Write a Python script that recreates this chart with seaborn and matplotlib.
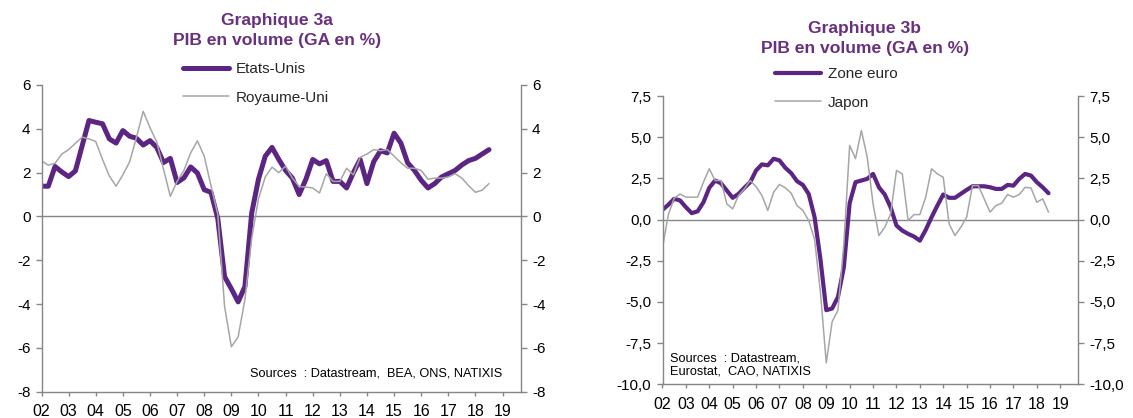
import matplotlib

matplotlib.use("Agg")
import matplotlib.pyplot as plt
import pandas as pd
import seaborn as sns
from matplotlib.ticker import FuncFormatter

sns.set_theme(style="white")
plt.rcParams["font.family"] = ["Liberation Sans", "DejaVu Sans"]
plt.rcParams["axes.unicode_minus"] = False

# trimestres 2002T1 -> 2018T3
quarters = pd.period_range("2002Q1", "2018Q3", freq="Q")
year_ticks = list(range(2002, 2020))
year_labels = ["02", "03", "04", "05", "06", "07", "08", "09", "10",
               "11", "12", "13", "14", "15", "16", "17", "18", "19"]

# PIB en volume, glissement annuel en %
etats_unis = [1.38, 1.38, 2.28, 2.03, 1.82, 2.08, 3.23, 4.38,
              4.30, 4.23, 3.54, 3.35, 3.92, 3.66, 3.57, 3.26,
              3.46, 3.15, 2.46, 2.65, 1.55, 1.76, 2.26, 1.98,
              1.22, 1.10, -0.10, -2.75, -3.30, -3.90, -3.20, 0.15,
              1.70, 2.75, 3.15, 2.60, 2.10, 1.75, 1.00, 1.70,
              2.60, 2.40, 2.55, 1.60, 1.60, 1.30, 2.00, 2.60,
              1.50, 2.50, 3.00, 2.90, 3.80, 3.35, 2.45, 2.10,
              1.65, 1.30, 1.50, 1.80, 1.95, 2.10, 2.35, 2.55,
              2.65, 2.85, 3.05]
royaume_uni = [2.54, 2.34, 2.43, 2.85, 3.05, 3.34, 3.62, 3.54,
               3.42, 2.60, 1.85, 1.38, 1.90, 2.50, 3.60, 4.80,
               4.05, 3.40, 2.15, 0.92, 1.60, 2.10, 2.90, 3.45,
               2.75, 1.40, 0.10, -4.10, -5.95, -5.50, -3.80, -1.00,
               0.80, 1.80, 2.25, 2.00, 2.30, 1.75, 1.37, 1.34,
               1.30, 1.07, 1.95, 1.60, 1.60, 2.20, 1.90, 2.70,
               2.85, 3.05, 3.00, 3.05, 2.75, 2.45, 2.20, 2.20,
               2.10, 1.70, 1.75, 1.75, 1.80, 1.95, 1.75, 1.40,
               1.10, 1.20, 1.50]
zone_euro = [0.59, 0.90, 1.26, 1.16, 0.75, 0.39, 0.50, 1.05,
             1.93, 2.37, 2.20, 1.76, 1.32, 1.56, 1.93, 2.27,
             2.98, 3.35, 3.29, 3.69, 3.59, 3.14, 2.82, 2.33,
             2.10, 1.55, 0.15, -2.40, -5.50, -5.40, -4.70, -2.90,
             1.00, 2.27, 2.37, 2.47, 2.77, 1.96, 1.52, 0.75,
             -0.36, -0.67, -0.87, -1.03, -1.28, -0.63, 0.14, 0.85,
             1.52, 1.32, 1.32, 1.56, 1.80, 2.02, 2.02, 2.02,
             1.96, 1.86, 1.86, 2.10, 2.06, 2.47, 2.77, 2.67,
             2.27, 1.96, 1.60]
japon = [-1.70, 0.30, 1.30, 1.55, 1.36, 1.36, 1.36, 2.27,
         3.08, 2.37, 2.37, 0.95, 0.65, 1.46, 1.87, 2.37,
         2.00, 1.46, 0.55, 1.66, 2.13, 1.93, 1.60, 0.85,
         0.55, -0.06, -1.20, -4.40, -8.70, -6.20, -5.50, -1.50,
         4.50, 3.70, 5.40, 3.80, 0.95, -0.97, -0.47, 0.34,
         2.98, 2.77, -0.06, 0.30, 0.30, 1.36, 3.08, 2.77,
         2.57, -0.26, -0.97, -0.47, 0.14, 2.06, 2.06, 1.26,
         0.45, 0.85, 0.99, 1.52, 1.36, 1.52, 1.96, 1.92,
         1.05, 1.26, 0.45]

t = quarters.year + (quarters.quarter - 1) / 4
df_a = pd.DataFrame({"t": t, "Etats-Unis": etats_unis, "Royaume-Uni": royaume_uni})
df_b = pd.DataFrame({"t": t, "Zone euro": zone_euro, "Japon": japon})

PURPLE = "#5c2483"
GREY = "#a6a6a6"
AXIS = "#868686"
TITLE = "#68307f"

W, H = 1133, 418


def fx(px):
    return px / W


def fy(py):
    return 1 - py / H


fig = plt.figure(figsize=(W / 100, H / 100), dpi=100)
ax_a = fig.add_axes([fx(41.5), fy(391.7), fx(521 - 41.5), (391.7 - 85) / H])
ax_b = fig.add_axes([fx(662.5), fy(384.3), fx(1078 - 662.5), (384.3 - 96) / H])


def draw_panel(ax, df, main, other, lw_main, ylim, yticks, xmax):
    sns.lineplot(data=df, x="t", y=main, ax=ax, color=PURPLE, linewidth=lw_main, label=main)
    sns.lineplot(data=df, x="t", y=other, ax=ax, color=GREY, linewidth=1.1, label=other)
    ax.axhline(0, color=AXIS, linewidth=1.0, zorder=0)
    ax.set_xlim(2002, xmax)
    ax.set_ylim(*ylim)
    ax.set_xticks(year_ticks)
    ax.set_xticklabels(year_labels)
    ax.set_yticks(yticks)
    ax.set_xlabel("")
    ax.set_ylabel("")
    for side in ["left", "right", "bottom"]:
        ax.spines[side].set_visible(True)
        ax.spines[side].set_color(AXIS)
        ax.spines[side].set_linewidth(1.0)
    ax.spines["top"].set_visible(False)
    ax.tick_params(axis="y", left=True, right=True, labelleft=True, labelright=True,
                   direction="out", length=4, width=1, color=AXIS, labelsize=11,
                   labelcolor="black", pad=4)
    ax.tick_params(axis="x", bottom=True, direction="out", length=3, width=1,
                   color=AXIS, labelsize=11.5, labelcolor="black", pad=6)
    ax.grid(False)


draw_panel(ax_a, df_a, "Etats-Unis", "Royaume-Uni", 3.6, (-8, 6),
           [-8, -6, -4, -2, 0, 2, 4, 6], 2019.68)
draw_panel(ax_b, df_b, "Zone euro", "Japon", 3.0, (-10, 7.5),
           [-10, -7.5, -5, -2.5, 0, 2.5, 5, 7.5], 2019.76)
ax_b.yaxis.set_major_formatter(FuncFormatter(lambda v, _: f"{v:.1f}".replace(".", ",")))

for ax, x0, y0 in [(ax_a, 183, 62), (ax_b, 775, 67)]:
    ax.legend(loc="upper left", bbox_to_anchor=(fx(x0), fy(y0)),
              bbox_transform=fig.transFigure, frameon=False, fontsize=11,
              handlelength=3.0, handletextpad=0.45, labelspacing=0.95,
              borderpad=0, borderaxespad=0)

# titres
fig.text(fx(277), fy(20), "Graphique 3a", ha="center", va="center",
         fontsize=12.6, fontweight="bold", color=TITLE)
fig.text(fx(277), fy(40), "PIB en volume (GA en %)", ha="center", va="center",
         fontsize=12.6, fontweight="bold", color=TITLE)
fig.text(fx(865), fy(28), "Graphique 3b", ha="center", va="center",
         fontsize=12.6, fontweight="bold", color=TITLE)
fig.text(fx(865), fy(48), "PIB en volume (GA en %)", ha="center", va="center",
         fontsize=12.6, fontweight="bold", color=TITLE)

# sources
fig.text(fx(250), fy(373), "Sources  : Datastream,  BEA, ONS, NATIXIS",
         ha="left", va="center", fontsize=9.2, color="black")
fig.text(fx(670), fy(365), "Sources  : Datastream,\nEurostat,  CAO, NATIXIS",
         ha="left", va="center", fontsize=9.2, color="black", linespacing=1.15)

fig.savefig("out.png", dpi=100)
